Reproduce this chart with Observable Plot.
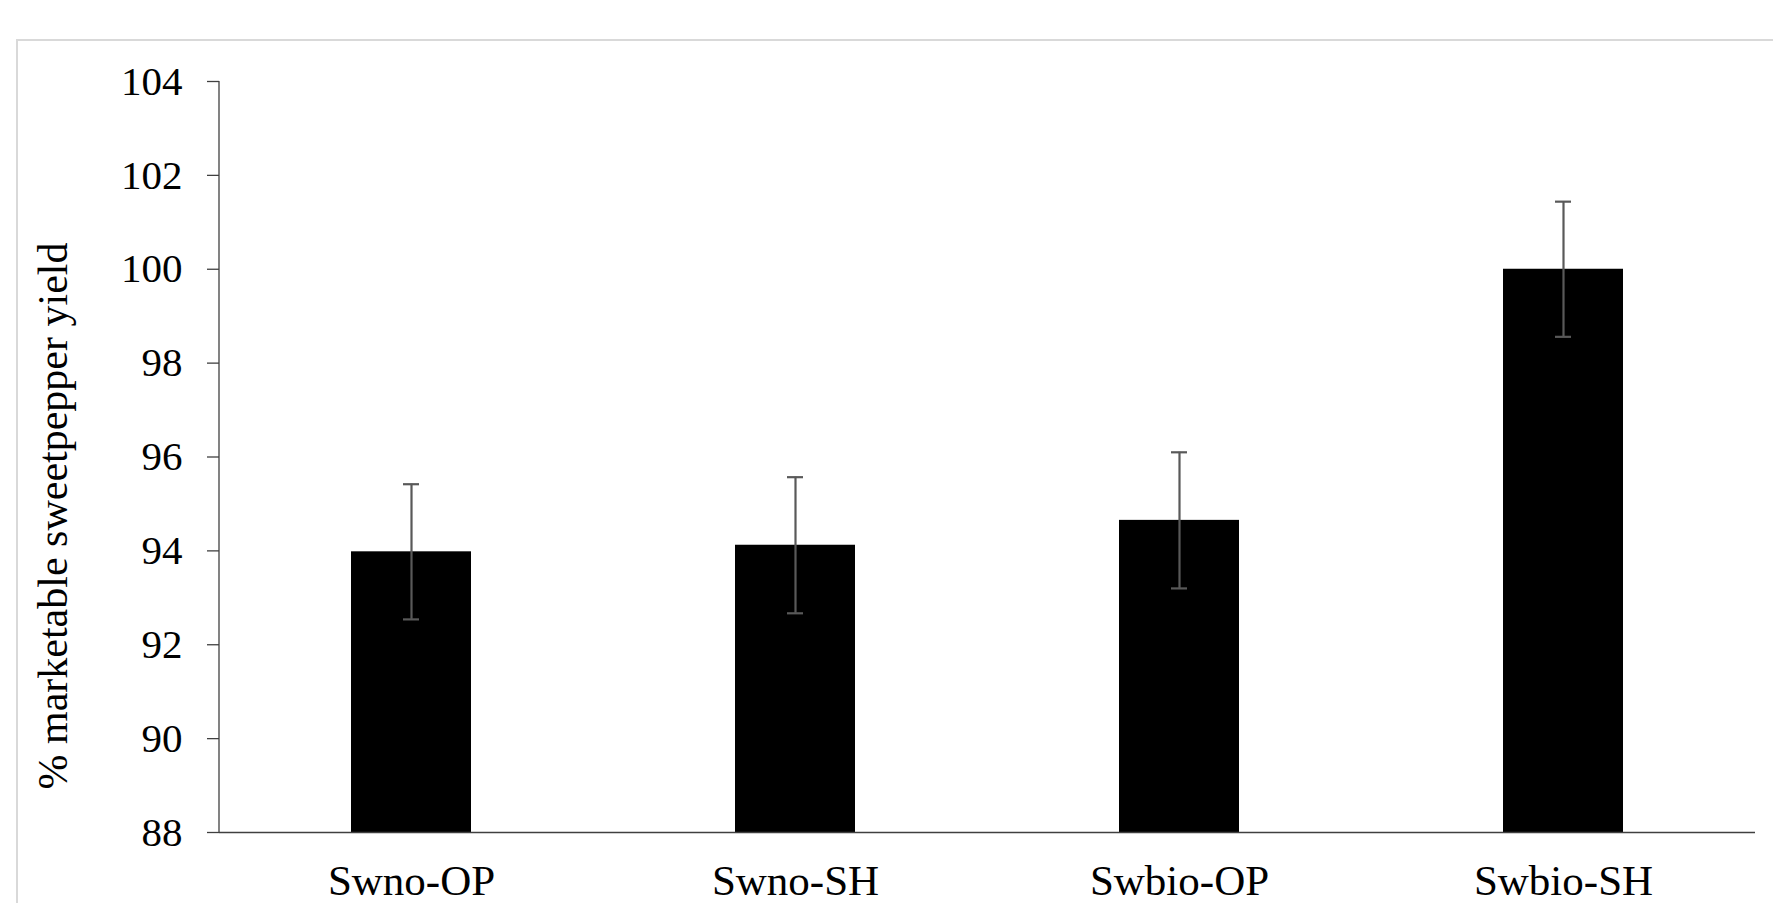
<!DOCTYPE html>
<html><head><meta charset="utf-8">
<script src="https://cdn.jsdelivr.net/npm/d3@7"></script>
<script src="https://cdn.jsdelivr.net/npm/@observablehq/plot@0.6"></script>
<style>
html,body{margin:0;padding:0;background:#fff;overflow:hidden;width:1773px;height:903px}
#frame{position:absolute;left:16px;top:39px;width:1800px;height:900px;border:2px solid #d9d9d9;box-sizing:border-box}
#chart{position:absolute;left:0;top:0}
</style></head><body>
<div id="frame"></div><div id="chart"></div>
<script>
const treatments = ["Swno-OP", "Swno-SH", "Swbio-OP", "Swbio-SH"];
const yieldPct = [93.98, 94.12, 94.65, 100.0];
const stdErr = [1.44, 1.45, 1.45, 1.44];
const yTicks = [88, 90, 92, 94, 96, 98, 100, 102, 104];
const yTitle = "% marketable sweetpepper yield";

const data = treatments.map((t, i) => ({t, v: yieldPct[i], lo: yieldPct[i] - stdErr[i], hi: yieldPct[i] + stdErr[i]}));
const font = '"Liberation Serif", "Times New Roman", serif';
const errColor = "#595959";
const axisColor = "#404040";

const plot = Plot.plot({
  width: 1773,
  height: 903,
  marginLeft: 219,
  marginRight: 18,
  marginTop: 81,
  marginBottom: 71,
  style: {fontFamily: font, fontSize: "41px", color: "black", background: "transparent"},
  x: {domain: treatments, paddingInner: 0.6875, paddingOuter: 0.34375, label: null},
  y: {domain: [88, 104], ticks: yTicks, label: null},
  marks: [
    Plot.barY(data, {x: "t", y1: 88, y2: "v", fill: "black"}),
    Plot.ruleX(data, {x: "t", y1: "lo", y2: "hi", stroke: errColor, strokeWidth: 2.2}),
    Plot.tickY(data, {x: "t", y: "hi", stroke: errColor, strokeWidth: 2.2, insetLeft: 52, insetRight: 52}),
    Plot.tickY(data, {x: "t", y: "lo", stroke: errColor, strokeWidth: 2.2, insetLeft: 52, insetRight: 52}),
    Plot.ruleY([88], {stroke: axisColor, strokeWidth: 1.3}),
    Plot.axisY({ticks: yTicks, tickSize: 12, tickPadding: 25, fontSize: 41, stroke: axisColor, strokeWidth: 1.3, label: null, tickFormat: d => String(d)}),
    Plot.axisX({tickSize: 0, tickPadding: 32, fontSize: 43, label: null}),
    Plot.text([yTitle], {frameAnchor: "left", text: d => d, rotate: -90, textAnchor: "middle", dx: -166, dy: 59, fontSize: 42, fill: "black"})
  ]
});

const sx = plot.scale("x"), sy = plot.scale("y");
d3.select(plot).append("line")
  .attr("x1", sx.range[0]).attr("x2", sx.range[0])
  .attr("y1", sy.apply(88)).attr("y2", sy.apply(104))
  .attr("stroke", axisColor).attr("stroke-width", 1.3);

document.getElementById("chart").appendChild(plot);
</script>
</body></html>
